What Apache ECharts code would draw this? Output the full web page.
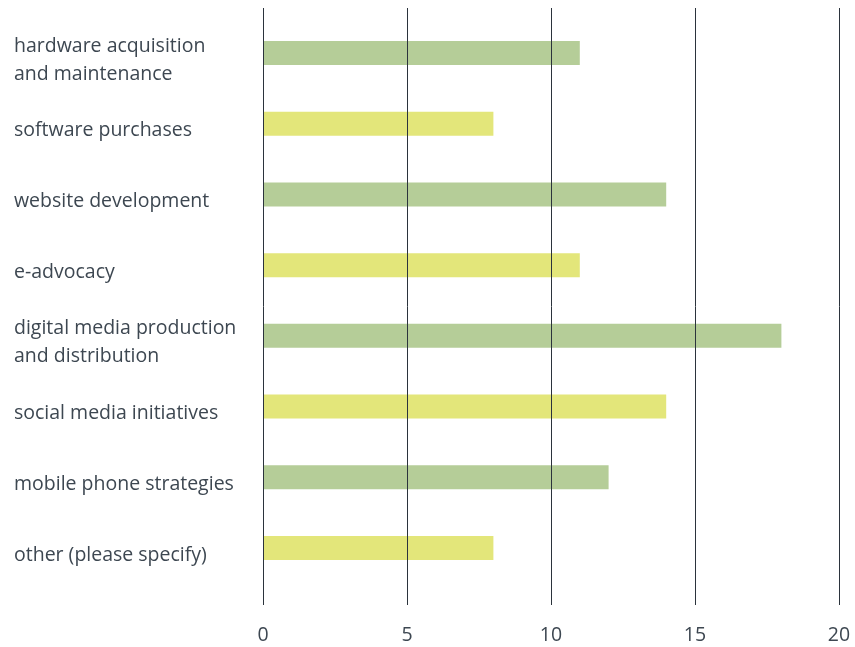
<!DOCTYPE html>
<html>
<head>
<meta charset="utf-8">
<style>
  html, body { margin: 0; padding: 0; background: #ffffff; }
  #chart { width: 855px; height: 647px; }
</style>
<script src="https://cdn.jsdelivr.net/npm/echarts@6/dist/echarts.min.js"></script>
</head>
<body>
<div id="chart"></div>
<script>
// Technology spending areas, listed top to bottom
const categories = [
  'hardware acquisition\nand maintenance',
  'software purchases',
  'website development',
  'e-advocacy',
  'digital media production\nand distribution',
  'social media initiatives',
  'mobile phone strategies',
  'other (please specify)'
];
const values = [11, 8, 14, 11, 18, 14, 12, 8];
const tickValues = [0, 5, 10, 15, 20];

const GREEN = '#b5cd98';
const YELLOW = '#e3e67a';
const TEXT = '#3d4751';
const FONT = '"Open Sans", "Noto Sans", sans-serif';

const chart = echarts.init(document.getElementById('chart'));
chart.setOption({
  animation: false,
  backgroundColor: '#ffffff',
  grid: [
    // full-height grid carrying the vertical rules and value labels
    { left: 263, right: 16, top: 8, bottom: 42 },
    // inner grid holding the bars
    { left: 263, right: 16, top: 17.6, bottom: 63.6 },
    // category labels sit a little below their bars
    { left: 263, right: 16, top: 24.6, bottom: 56.6 }
  ],
  xAxis: [
    {
      gridIndex: 0, type: 'value',
      min: tickValues[0], max: tickValues[tickValues.length - 1], interval: 5,
      z: 5,
      axisLine: { show: false }, axisTick: { show: false },
      splitLine: { show: true, lineStyle: { color: '#2b333c', width: 1 } },
      axisLabel: { color: TEXT, fontSize: 19.5, fontFamily: FONT, margin: 20 }
    },
    {
      gridIndex: 1, type: 'value',
      min: tickValues[0], max: tickValues[tickValues.length - 1],
      show: false, splitLine: { show: false }
    },
    {
      gridIndex: 2, type: 'value',
      min: tickValues[0], max: tickValues[tickValues.length - 1],
      show: false, splitLine: { show: false }
    }
  ],
  yAxis: [
    { gridIndex: 0, type: 'category', data: categories, show: false },
    { gridIndex: 1, type: 'category', data: categories, inverse: true, show: false },
    {
      gridIndex: 2, type: 'category', data: categories, inverse: true,
      axisLine: { show: false }, axisTick: { show: false },
      splitLine: { show: false },
      axisLabel: {
        align: 'left', margin: 249, color: TEXT,
        fontSize: 19.5, fontFamily: FONT, lineHeight: 28
      }
    }
  ],
  series: [{
    type: 'bar',
    xAxisIndex: 1, yAxisIndex: 1,
    data: values,
    barWidth: 24,
    z: 2,
    itemStyle: {
      color: (p) => (p.dataIndex % 2 === 0 ? GREEN : YELLOW)
    }
  }]
});
</script>
</body>
</html>
